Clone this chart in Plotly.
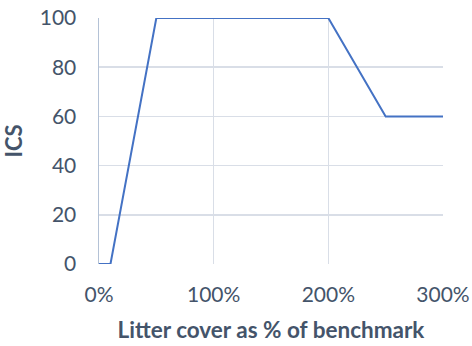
import plotly.graph_objects as go

litter_pct = [0, 10, 50, 200, 250, 300]
ics = [0, 0, 100, 100, 60, 60]
x_ticks = [0, 100, 200, 300]
x_tick_labels = ["0%", "100%", "200%", "300%"]
y_ticks = [0, 20, 40, 60, 80, 100]

txt = "#44546A"
grid = "#D9DEE7"

fig = go.Figure()
fig.add_trace(go.Scatter(x=litter_pct, y=ics, mode="lines",
                         line=dict(color="#4472C4", width=2), showlegend=False))

fig.update_layout(
    width=472, height=346,
    margin=dict(l=99, r=29, t=18, b=82),
    paper_bgcolor="white", plot_bgcolor="white",
    font=dict(family="Lato, Open Sans, sans-serif", color=txt, size=21),
    xaxis=dict(range=[0, 300], tickvals=x_ticks, ticktext=x_tick_labels,
               showgrid=True, gridcolor=grid, gridwidth=1.5, zeroline=False,
               showline=False, ticks="", automargin=False,
               ticklabelstandoff=16, ticklabeloverflow="allow",
               tickfont=dict(size=21, color=txt),
               title=dict(text="<b>Litter cover as % of benchmark</b>",
                          font=dict(size=22.5, color=txt), standoff=17)),
    yaxis=dict(range=[0, 100], tickvals=y_ticks,
               showgrid=True, gridcolor=grid, gridwidth=1.5, zeroline=False,
               showline=True, linecolor="#B4C2D6", linewidth=1.5,
               ticks="", automargin=False, ticklabelstandoff=17,
               ticklabeloverflow="allow",
               tickfont=dict(size=21, color=txt),
               title=dict(text="<b>ICS</b>", font=dict(size=22, color=txt), standoff=20)),
)

fig.write_html("out.html",
               config={"displayModeBar": False, "staticPlot": True},
               post_script="document.body.style.margin='0';document.body.style.overflow='hidden';")
